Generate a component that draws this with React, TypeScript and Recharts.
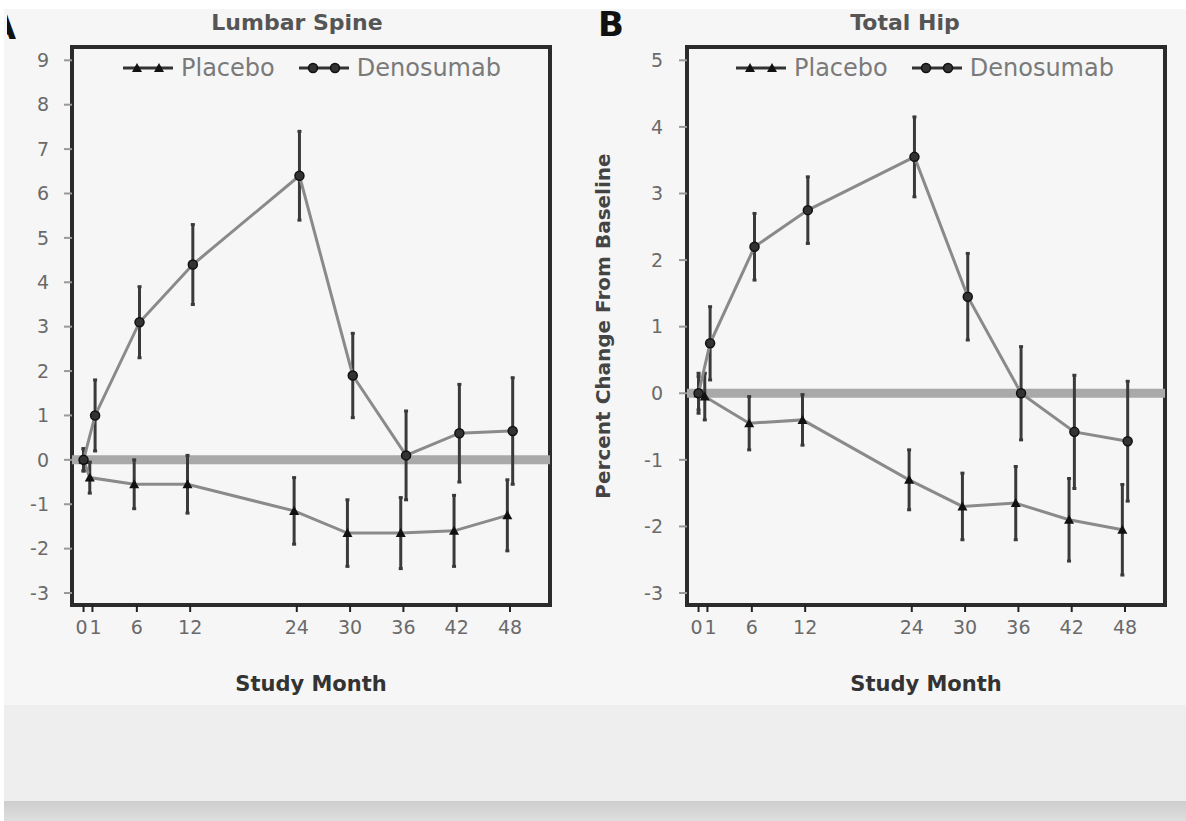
import React from "react";
import { ErrorBar, Line, LineChart, ReferenceArea, ReferenceLine, XAxis, YAxis } from "recharts";

// study months on the x axis
const months = [0, 1, 6, 12, 24, 30, 36, 42, 48];
const monthTicks = [0, 1, 6, 12, 24, 30, 36, 42, 48];

// A: lumbar spine, % change from baseline
const spineTicks = [-3, -2, -1, 0, 1, 2, 3, 4, 5, 6, 7, 8, 9];
const spinePlacebo = [0, -0.4, -0.55, -0.55, -1.15, -1.65, -1.65, -1.6, -1.25];
const spinePlaceboErr = [0.25, 0.35, 0.55, 0.65, 0.75, 0.75, 0.8, 0.8, 0.8];
const spineDenosumab = [0, 1.0, 3.1, 4.4, 6.4, 1.9, 0.1, 0.6, 0.65];
const spineDenosumabErr = [0.25, 0.8, 0.8, 0.9, 1.0, 0.95, 1.0, 1.1, 1.2];

// B: total hip, % change from baseline
const hipTicks = [-3, -2, -1, 0, 1, 2, 3, 4, 5];
const hipPlacebo = [0, -0.05, -0.45, -0.4, -1.3, -1.7, -1.65, -1.9, -2.05];
const hipPlaceboErr = [0.3, 0.35, 0.4, 0.38, 0.45, 0.5, 0.55, 0.62, 0.68];
const hipDenosumab = [0, 0.75, 2.2, 2.75, 3.55, 1.45, 0, -0.58, -0.72];
const hipDenosumabErr = [0.25, 0.55, 0.5, 0.5, 0.6, 0.65, 0.7, 0.85, 0.9];

const FONT = '"DejaVu Sans", sans-serif';
const X_DOMAIN: [number, number] = [-1.3, 52.5];
const DODGE = 0.3;

function toSeries(values: number[], errs: number[], shift: number) {
  return months.map((m, i) => ({ x: m === 0 ? 0 : m + shift, y: values[i], e: errs[i] }));
}

function TriangleDot({ cx, cy }: { cx?: number; cy?: number }) {
  if (cx == null || cy == null) return null;
  const s = 5;
  return <path d={`M${cx},${cy - s} L${cx + s},${cy + s * 0.8} L${cx - s},${cy + s * 0.8} Z`} fill="#111" />;
}

function CircleDot({ cx, cy }: { cx?: number; cy?: number }) {
  if (cx == null || cy == null) return null;
  return <circle cx={cx} cy={cy} r={4.5} fill="#333" stroke="#111" strokeWidth={1.5} />;
}

// "0" and "1" sit very close; anchor them away from each other so they read as "01"
function MonthTick({ x, y, payload }: any) {
  const v = payload?.value;
  const anchor = v === 0 ? "end" : v === 1 ? "start" : "middle";
  const dx = v === 0 ? 4 : v === 1 ? -3 : 0;
  return (
    <text x={x + dx} y={y} dy="0.71em" textAnchor={anchor} fill="#6a6a6a" fontSize={19} fontFamily={FONT}>
      {v}
    </text>
  );
}

function LegendIcon({ kind }: { kind: "tri" | "circle" }) {
  return (
    <svg width={54} height={16} style={{ display: "block" }}>
      <line x1={2} y1={8} x2={52} y2={8} stroke="#333" strokeWidth={3} />
      {[16, 38].map((cx) =>
        kind === "tri" ? (
          <TriangleDot key={cx} cx={cx} cy={8} />
        ) : (
          <CircleDot key={cx} cx={cx} cy={8} />
        )
      )}
    </svg>
  );
}

function LegendRow({ left, gap }: { left: number; gap: number }) {
  const text = { fontFamily: FONT, fontSize: 24, color: "#7a7a7a", lineHeight: "24px", marginLeft: 6 };
  return (
    <div style={{ position: "absolute", left, top: 56, display: "flex", alignItems: "center" }}>
      <LegendIcon kind="tri" />
      <span style={text}>Placebo</span>
      <span style={{ width: gap }} />
      <LegendIcon kind="circle" />
      <span style={text}>Denosumab</span>
    </div>
  );
}

type PanelProps = {
  left: number;
  width: number;
  yDomain: [number, number];
  yTicks: number[];
  placebo: number[];
  placeboErr: number[];
  denosumab: number[];
  denosumabErr: number[];
  marginLeft: number;
  marginRight: number;
  axisWidth: number;
  tickMargin: number;
  yLabel?: string;
};

function Panel(p: PanelProps) {
  const placeboData = toSeries(p.placebo, p.placeboErr, -DODGE);
  const denoData = toSeries(p.denosumab, p.denosumabErr, DODGE);
  const tickStyle = { fill: "#6a6a6a", fontSize: 19, fontFamily: FONT };
  return (
    <div style={{ position: "absolute", left: p.left, top: 0 }}>
      <LineChart
        width={p.width}
        height={700}
        margin={{ top: 47, right: p.marginRight, bottom: 9, left: p.marginLeft }}
      >
        <XAxis
          type="number"
          dataKey="x"
          domain={X_DOMAIN}
          ticks={monthTicks}
          interval={0}
          allowDataOverflow
          axisLine={false}
          tickSize={7}
          tickMargin={9}
          tickLine={{ stroke: "#222", strokeWidth: 2 }}
          tick={<MonthTick />}
          height={86}
          label={{
            value: "Study Month",
            position: "insideBottom",
            offset: 0,
            style: { fontFamily: FONT, fontSize: 21, fontWeight: 700, fill: "#333" },
          }}
        />
        <YAxis
          type="number"
          domain={p.yDomain}
          ticks={p.yTicks}
          interval={0}
          allowDataOverflow
          axisLine={false}
          width={p.axisWidth}
          tickSize={8}
          tickMargin={p.tickMargin}
          tickLine={{ stroke: "#999", strokeWidth: 2 }}
          tick={tickStyle}
          label={
            p.yLabel
              ? {
                  value: p.yLabel,
                  angle: -90,
                  position: "insideLeft",
                  offset: 23,
                  style: { textAnchor: "middle", fontFamily: FONT, fontSize: 20, fontWeight: 700, fill: "#444" },
                }
              : undefined
          }
        />
        <ReferenceLine y={0} stroke="#a9a9a9" strokeWidth={9} />
        <Line
          data={placeboData}
          dataKey="y"
          type="linear"
          stroke="#8a8a8a"
          strokeWidth={3}
          dot={(d: any) => <TriangleDot key={`p${d.index}`} cx={d.cx} cy={d.cy} />}
          activeDot={false}
          isAnimationActive={false}
        >
          <ErrorBar dataKey="e" direction="y" width={2} stroke="#3a3a3a" strokeWidth={3} />
        </Line>
        <Line
          data={denoData}
          dataKey="y"
          type="linear"
          stroke="#8a8a8a"
          strokeWidth={3}
          dot={(d: any) => <CircleDot key={`d${d.index}`} cx={d.cx} cy={d.cy} />}
          activeDot={false}
          isAnimationActive={false}
        >
          <ErrorBar dataKey="e" direction="y" width={2} stroke="#3a3a3a" strokeWidth={3} />
        </Line>
        <ReferenceArea
          x1={X_DOMAIN[0]}
          x2={X_DOMAIN[1]}
          y1={p.yDomain[0]}
          y2={p.yDomain[1]}
          fill="none"
          stroke="#2b2b2b"
          strokeWidth={4}
          ifOverflow="visible"
        />
      </LineChart>
    </div>
  );
}

const centered = (x: number, y: number): React.CSSProperties => ({
  position: "absolute",
  left: x,
  top: y,
  transform: "translate(-50%, -50%)",
  whiteSpace: "nowrap",
  lineHeight: 1,
});

export default function App() {
  return (
    <div style={{ position: "absolute", left: 0, top: 0, width: 1186, height: 821, background: "#fff", overflow: "hidden" }}>
      <div style={{ position: "absolute", left: 4, top: 9, width: 1182, height: 696, background: "#f6f6f6" }} />
      <div style={{ position: "absolute", left: 4, top: 705, width: 1182, height: 96, background: "#eeeeee" }} />
      <div
        style={{
          position: "absolute",
          left: 4,
          top: 801,
          width: 1182,
          height: 20,
          background: "linear-gradient(#cdcdcd, #dedede)",
        }}
      />

      <Panel
        left={0}
        width={560}
        yDomain={[-3.27, 9.3]}
        yTicks={spineTicks}
        placebo={spinePlacebo}
        placeboErr={spinePlaceboErr}
        denosumab={spineDenosumab}
        denosumabErr={spineDenosumabErr}
        marginLeft={12}
        marginRight={10}
        axisWidth={60}
        tickMargin={15}
      />
      <Panel
        left={580}
        width={606}
        yDomain={[-3.18, 5.2]}
        yTicks={hipTicks}
        placebo={hipPlacebo}
        placeboErr={hipPlaceboErr}
        denosumab={hipDenosumab}
        denosumabErr={hipDenosumabErr}
        marginLeft={0}
        marginRight={21}
        axisWidth={107}
        tickMargin={16}
        yLabel="Percent Change From Baseline"
      />

      <LegendRow left={121} gap={22} />
      <LegendRow left={734} gap={22} />

      <div style={{ ...centered(297, 23), fontFamily: FONT, fontSize: 22, fontWeight: 700, color: "#555" }}>Lumbar Spine</div>
      <div style={{ ...centered(905, 23), fontFamily: FONT, fontSize: 22, fontWeight: 700, color: "#555" }}>Total Hip</div>
      <div style={{ ...centered(611, 24), fontFamily: FONT, fontSize: 34, fontWeight: 700, color: "#111" }}>B</div>
      <div style={{ position: "absolute", left: 7, top: 14, width: 9, height: 26, overflow: "hidden" }}>
        <span style={{ position: "absolute", right: 0, top: 0, fontFamily: FONT, fontSize: 34, fontWeight: 700, color: "#111", lineHeight: "26px" }}>
          A
        </span>
      </div>
    </div>
  );
}
